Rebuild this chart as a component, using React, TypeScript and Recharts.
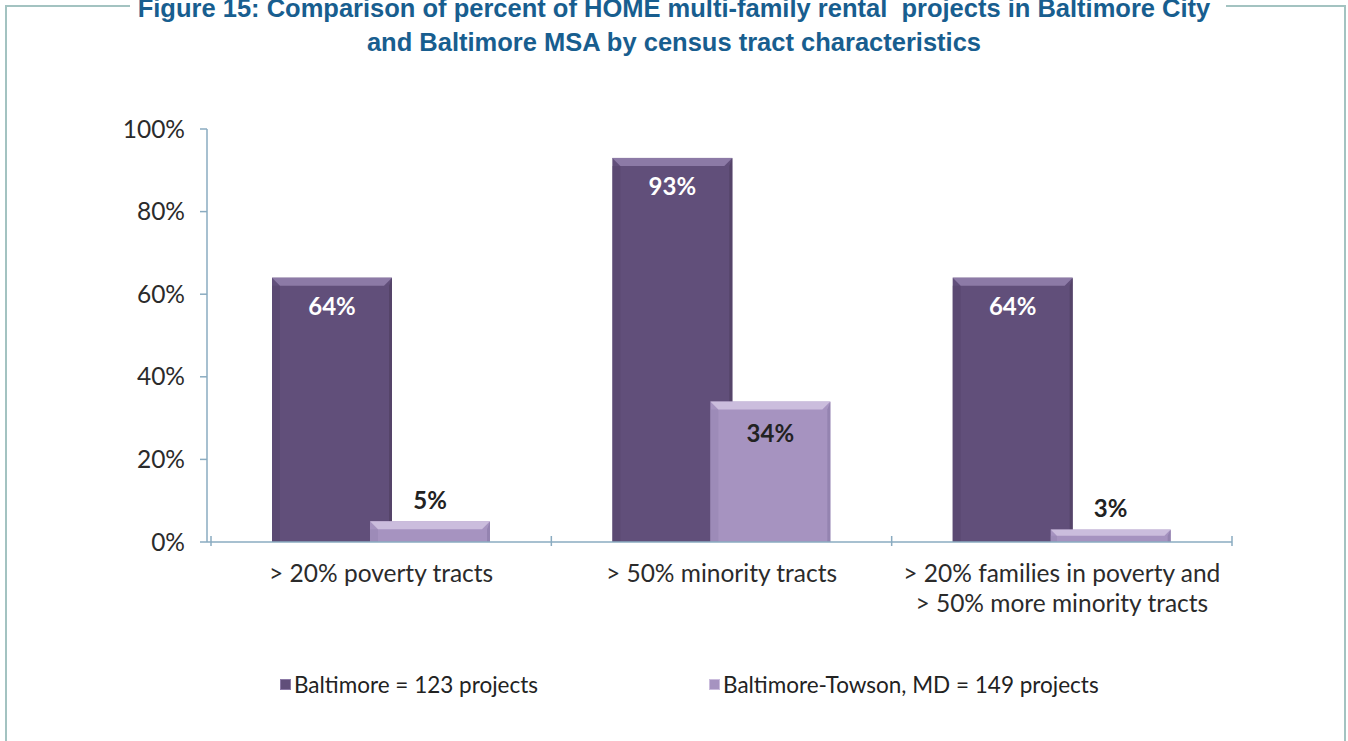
import React from "react";
import { BarChart, Bar, XAxis, YAxis, Legend, LabelList } from "recharts";

// tract categories and share of HOME multi-family rental projects (%)
const categories = [
  "> 20% poverty tracts",
  "> 50% minority tracts",
  "> 20% families in poverty and\n> 50% more minority tracts",
];
const baltimoreCity = [64, 93, 64];
const baltimoreMsa = [5, 34, 3];
const yTicks = [0, 20, 40, 60, 80, 100];

const seriesNames = ["Baltimore = 123 projects", "Baltimore-Towson, MD = 149 projects"];

const chartData = categories.map((name, i) => ({
  name,
  city: baltimoreCity[i],
  msa: baltimoreMsa[i],
}));

const DARK = "#614f7a";
const LIGHT = "#a693c0";
const AXIS = "#8aabc0";
const FONT = "Lato, 'Open Sans', sans-serif";
const FRAME = "#a3c3c1";

// bar with a bevelled top edge, like the Excel 3D look
function BevelBar(props: any) {
  const { x, y, width, height, fill } = props;
  if (!height || height <= 0) return null;
  const b = Math.min(8, height / 2);
  const top = fill === DARK ? "#8c7aa6" : "#cbbddd";
  const side = fill === DARK ? "#554469" : "#9483b0";
  return (
    <g>
      <rect x={x} y={y} width={width} height={height} fill={fill} />
      <polygon
        points={`${x},${y + b} ${x + b},${y + b} ${x + b},${y + height} ${x},${y + height}`}
        fill={side}
        opacity={0.5}
      />
      <polygon
        points={`${x + width},${y} ${x + width},${y + height} ${x + width - 3},${y + height} ${x + width - 3},${y + b}`}
        fill={side}
      />
      <polygon
        points={`${x},${y} ${x + width},${y} ${x + width - b},${y + b} ${x + b},${y + b}`}
        fill={top}
      />
    </g>
  );
}

function CityLabel(props: any) {
  const { x, y, width, value } = props;
  return (
    <text
      x={x + width / 2}
      y={y + 28}
      textAnchor="middle"
      dominantBaseline="central"
      fill="#ffffff"
      fontFamily={FONT}
      fontWeight={700}
      fontSize={24}
    >
      {value}%
    </text>
  );
}

function MsaLabel(props: any) {
  const { x, y, width, height, value } = props;
  const inside = height > 40;
  return (
    <text
      x={x + width / 2}
      y={inside ? y + 31 : y - 22}
      textAnchor="middle"
      dominantBaseline="central"
      fill="#222222"
      fontFamily={FONT}
      fontWeight={700}
      fontSize={24}
    >
      {value}%
    </text>
  );
}

function CategoryTick(props: any) {
  const { x, y, payload, index, visibleTicksCount } = props;
  const half = payload.offset || 170;
  const lines = String(payload.value).split("\n");
  return (
    <g>
      <line x1={x - half} y1={y - 14} x2={x - half} y2={y - 4} stroke={AXIS} strokeWidth={1.5} />
      {index === visibleTicksCount - 1 && (
        <line x1={x + half} y1={y - 14} x2={x + half} y2={y - 4} stroke={AXIS} strokeWidth={1.5} />
      )}
      {lines.map((line, i) => (
        <text
          key={i}
          x={x}
          y={y + 22 + i * 30}
          textAnchor="middle"
          dominantBaseline="central"
          fill="#2b2b2b"
          fontFamily={FONT}
          fontSize={24.5}
        >
          {line}
        </text>
      ))}
    </g>
  );
}

function LegendContent() {
  const colors = [DARK, LIGHT];
  return (
    <div
      style={{
        display: "flex",
        justifyContent: "flex-start",
        gap: 171,
        paddingLeft: 280,
        fontFamily: FONT,
        fontSize: 22.5,
        color: "#222",
      }}
    >
      {seriesNames.map((name, i) => (
        <div key={name} style={{ display: "flex", alignItems: "center" }}>
          <span
            style={{
              display: "inline-block",
              width: 9,
              height: 9,
              background: colors[i],
              border: `1px solid ${i === 0 ? "#8c7aa6" : "#cbbddd"}`,
              marginRight: 3,
            }}
          />
          {name}
        </div>
      ))}
    </div>
  );
}

export default function App() {
  return (
    <div
      style={{
        position: "absolute",
        left: 0,
        top: 0,
        width: 1348,
        height: 741,
        background: "#ffffff",
        overflow: "hidden",
      }}
    >
      {/* frame around the figure */}
      <div style={{ position: "absolute", left: 5, top: 5, width: 125, height: 2, background: FRAME }} />
      <div style={{ position: "absolute", left: 1226, top: 5, width: 120, height: 2, background: FRAME }} />
      <div style={{ position: "absolute", left: 5, top: 5, width: 2, height: 736, background: FRAME }} />
      <div style={{ position: "absolute", left: 1344, top: 5, width: 2, height: 736, background: FRAME }} />

      <div
        style={{
          position: "absolute",
          left: 0,
          top: -9,
          width: 1348,
          textAlign: "center",
          fontFamily: "'Liberation Sans', Arial, sans-serif",
          fontWeight: 700,
          fontSize: 25.5,
          lineHeight: "34px",
          color: "#185e8f",
        }}
      >
        Figure 15: Comparison of percent of HOME multi-family rental&nbsp; projects in Baltimore City
        <br />
        and Baltimore MSA by census tract characteristics
      </div>

      <div style={{ position: "absolute", left: 0, top: 0 }}>
        <BarChart
          width={1348}
          height={741}
          data={chartData}
          margin={{ top: 129, right: 116, bottom: 119, left: 127 }}
          barSize={120}
          barGap={-22}
        >
          <XAxis
            dataKey="name"
            axisLine={{ stroke: AXIS, strokeWidth: 1.5 }}
            tickLine={false}
            tick={<CategoryTick />}
            interval={0}
            height={80}
            padding={{ left: 4, right: 0 }}
          />
          <YAxis
            domain={[0, 100]}
            ticks={yTicks}
            width={80}
            axisLine={{ stroke: AXIS, strokeWidth: 1.5 }}
            tickLine={{ stroke: AXIS, strokeWidth: 1.5 }}
            tickSize={7}
            tickMargin={15}
            tickFormatter={(v) => `${v}%`}
            tick={{ fontSize: 24.5, fontFamily: FONT, fill: "#2b2b2b" }}
          />
          <Legend
            layout="horizontal"
            verticalAlign="middle"
            align="center"
            wrapperStyle={{ top: 671, left: 0, width: 1348 }}
            content={<LegendContent />}
          />
          <Bar dataKey="city" name={seriesNames[0]} fill={DARK} shape={<BevelBar />} isAnimationActive={false}>
            <LabelList dataKey="city" content={<CityLabel />} />
          </Bar>
          <Bar dataKey="msa" name={seriesNames[1]} fill={LIGHT} shape={<BevelBar />} isAnimationActive={false}>
            <LabelList dataKey="msa" content={<MsaLabel />} />
          </Bar>
        </BarChart>
      </div>
    </div>
  );
}
